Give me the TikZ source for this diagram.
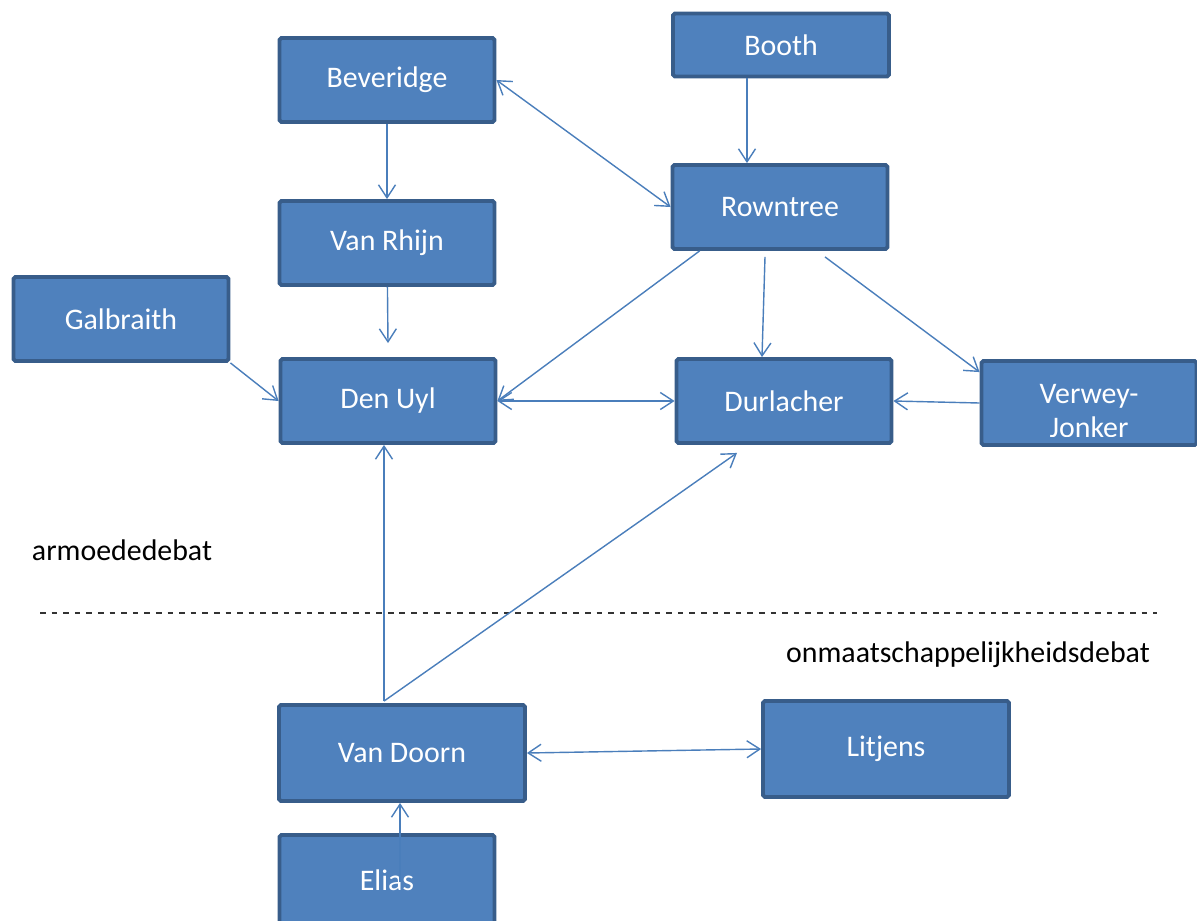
\documentclass[tikz,border=0pt]{standalone}
\usepackage{fontspec}
\setmainfont{Carlito}
\usepackage{tikz}
\usetikzlibrary{arrows.meta, calc}
\definecolor{fillcol}{HTML}{4F81BD}
\definecolor{edgecol}{HTML}{385D8A}
\definecolor{arrcol}{HTML}{4A7EBB}
\begin{document}
\begin{tikzpicture}[x=0.02cm, y=-0.02cm, >={Straight Barb[length=2.6mm, width=3.4mm]},
  box/.style={draw=edgecol, fill=fillcol, line width=2.2pt, rounded corners=1pt,
    minimum width=4.3cm, minimum height=1.68cm, text=white,
    font=\fontsize{17}{19.3}\selectfont},
  bigbox/.style={box, minimum width=4.92cm, minimum height=1.92cm},
  boxtext/.style={text=white, align=center, font=\fontsize{17}{19.3}\selectfont},
  arr/.style={->, arrcol, line width=0.8pt},
  arrs/.style={<->, arrcol, line width=0.8pt},
  debat/.style={font=\fontsize{17}{19.3}\selectfont}]
\useasboundingbox (0,0) rectangle (1197,920);
% boxes
\node[box] (beveridge) at (387,80) {Beveridge};
\node[box, minimum width=4.32cm, minimum height=1.26cm] (booth) at (781,45) {Booth};
\node[box] (rowntree) at (780,207) {Rowntree};
\node[box] (rhijn) at (387,243) {Van Rhijn};
\node[box] (galbraith) at (121,319) {Galbraith};
\node[box] (uyl) at (388,401) {Den Uyl};
\node[box] (durlacher) at (784,401) {Durlacher};
\node[box] (verwey) at (1089,403) {};
\begin{scope}
\clip ($(verwey.north west)+(2,2)$) rectangle ($(verwey.south east)+(-2,-10)$);
\node[boxtext] (verweytext) at ($(verwey)+(0,8)$) {Verwey-\\Jonker};
\end{scope}
\node[bigbox] (doorn) at (402,753) {Van Doorn};
\node[bigbox] (litjens) at (886,749) {Litjens};
\node[box, minimum height=1.8cm] (elias) at (387,880) {Elias};
% labels
\node[debat] (armoede) at (122,550) {armoededebat};
\node[debat] (onmaat) at (968,655) {onmaatschappelijkheidsdebat};
\coordinate (divl) at (40,613);
\coordinate (divr) at (1157,613);
\draw[black!80, line width=0.6pt, dash pattern=on 3.2pt off 3.4pt] (divl) -- (divr);
% arrows
\draw[arr] (beveridge) -- (rhijn);
\draw[arr] ($(booth.south)+(-34,0)$) -- ($(rowntree.north)+(-33,0)$);
\draw[arrs] (beveridge.east) -- (rowntree.west);
\draw[arr] (rhijn) -- ($(uyl.north)+(0,-14)$);
\draw[arr] (galbraith.south east) -- (uyl.west);
\draw[arr] ($(rowntree.south west)+(29,0)$) -- (uyl.east);
\draw[arr] ($(rowntree.south)+(-15,6)$) -- ($(durlacher.north)+(-22,0)$);
\draw[arr] ($(rowntree.south)+(45,6)$) -- ($(verwey.north west)+(0,13)$);
\draw[arrs] (uyl.east) -- (durlacher.west);
\draw[arr] (verwey.west) -- (durlacher.east);
\draw[arr] ($(doorn.north)+(-18,-2)$) -- ($(uyl.south)+(-4,0)$);
\draw[arr] ($(doorn.north)+(-18,-2)$) -- ($(durlacher.south)+(-47,8)$);
\draw[arrs] (doorn.east) -- (litjens.west);
\draw[arr] ($(elias.center)+(13,2)$) -- ($(doorn.south)+(-2,0)$);
\end{tikzpicture}
\end{document}
